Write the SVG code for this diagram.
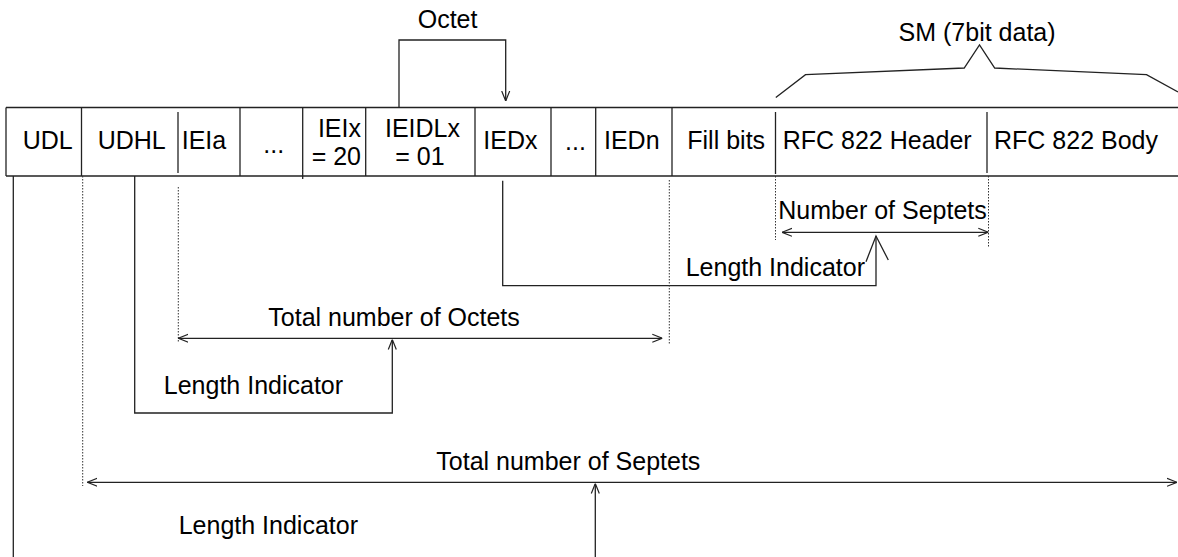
<svg xmlns="http://www.w3.org/2000/svg" width="1178" height="557" viewBox="0 0 1178 557">
<style>
text{font-family:"Liberation Sans",Arial,sans-serif;font-size:25px;fill:#000}
.ln{stroke:#222;stroke-width:1.3;fill:none}
.dot{stroke:#333;stroke-width:1;stroke-dasharray:1.5 1.5;fill:none}
</style>
<defs>
<marker id="ah" viewBox="0 0 10 10" refX="10" refY="5" markerWidth="10" markerHeight="10" markerUnits="userSpaceOnUse" orient="auto-start-reverse">
<path d="M0,1 L10,5 L0,9" fill="none" stroke="#222" stroke-width="1.2"/>
</marker>
</defs>
<rect width="1178" height="557" fill="#fff"/>
<g id="table">
<line class="ln" x1="6" y1="107.5" x2="1178" y2="107.5"/>
<line class="ln" x1="6" y1="176" x2="1178" y2="176"/>
<line class="ln" x1="6" y1="107.5" x2="6" y2="176"/>
</g>
<g id="udl"><text x="22.7" y="149">UDL</text><line class="ln" x1="81.5" y1="107.5" x2="81.5" y2="176"/></g>
<g id="udhl"><text x="97.7" y="149">UDHL</text><line class="ln" x1="178" y1="112" x2="178" y2="173"/></g>
<g id="ieia"><text x="181.7" y="149">IEIa</text><line class="ln" x1="240" y1="107.5" x2="240" y2="176"/></g>
<g id="dots1"><text x="263.3" y="153">...</text><line class="ln" x1="302.7" y1="107.5" x2="302.7" y2="179"/></g>
<g id="ieix"><text x="361" y="137" text-anchor="end">IEIx</text><text x="361" y="165" text-anchor="end">= 20</text><line class="ln" x1="365.7" y1="107.5" x2="365.7" y2="176"/></g>
<g id="ieidlx"><text x="422.5" y="137" text-anchor="middle">IEIDLx</text><text x="420" y="165" text-anchor="middle">= 01</text><line class="ln" x1="475" y1="107.5" x2="475" y2="176"/></g>
<g id="iedx"><text x="483.3" y="149">IEDx</text><line class="ln" x1="551" y1="107.5" x2="551" y2="176"/></g>
<g id="dots2"><text x="565" y="150">...</text><line class="ln" x1="595.7" y1="107.5" x2="595.7" y2="176"/></g>
<g id="iedn"><text x="604" y="149">IEDn</text><line class="ln" x1="672" y1="107.5" x2="672" y2="176"/></g>
<g id="fill"><text x="687.3" y="149">Fill bits</text><line class="ln" x1="775.5" y1="112" x2="775.5" y2="174"/></g>
<g id="rfch"><text x="782.7" y="149">RFC 822 Header</text><line class="ln" x1="987" y1="112" x2="987" y2="173"/></g>
<g id="rfcb"><text x="994" y="149">RFC 822 Body</text></g>
<g id="labels">
<text x="417.7" y="28">Octet</text>
<text x="898.6" y="41">SM (7bit data)</text>
<text x="778.3" y="219">Number of Septets</text>
<text x="685.7" y="276">Length Indicator</text>
<text x="268.3" y="326">Total number of Octets</text>
<text x="163.8" y="394">Length Indicator</text>
<text x="436.3" y="470">Total number of Septets</text>
<text x="178.7" y="534">Length Indicator</text>
</g>
<g id="connectors">
<polyline class="ln" points="399,107.5 399,40 505.7,40 505.7,101" marker-end="url(#ah)"/>
<polyline class="ln" points="775.8,97.5 805.5,74.7 964.2,68 979.5,45 994.7,68 1146.5,74.7 1178,92"/>
<line class="dot" x1="775.5" y1="176" x2="775.5" y2="240"/>
<line class="dot" x1="988.5" y1="176" x2="988.5" y2="247"/>
<line class="ln" x1="782" y1="232.3" x2="988.3" y2="232.3" marker-start="url(#ah)" marker-end="url(#ah)"/>
<polyline class="ln" points="502.7,180.7 502.7,285.7 876,285.7 876,236"/>
<polyline class="ln" points="866,261.7 876,236 888.3,260"/>
<line class="dot" x1="178.3" y1="187" x2="178.3" y2="343"/>
<line class="dot" x1="669.3" y1="180" x2="669.3" y2="344"/>
<line class="ln" x1="178.3" y1="338.3" x2="662.3" y2="338.3" marker-start="url(#ah)" marker-end="url(#ah)"/>
<polyline class="ln" points="134.7,176 134.7,413 392.3,413 392.3,339.5" marker-end="url(#ah)"/>
<line class="dot" x1="82.7" y1="176" x2="82.7" y2="486"/>
<line class="ln" x1="87.3" y1="482.3" x2="1177" y2="482.3" marker-start="url(#ah)" marker-end="url(#ah)"/>
<line class="ln" x1="595.3" y1="557" x2="595.3" y2="483.5" marker-end="url(#ah)"/>
<line class="ln" x1="13.3" y1="176" x2="13.3" y2="557"/>
</g>
</svg>
